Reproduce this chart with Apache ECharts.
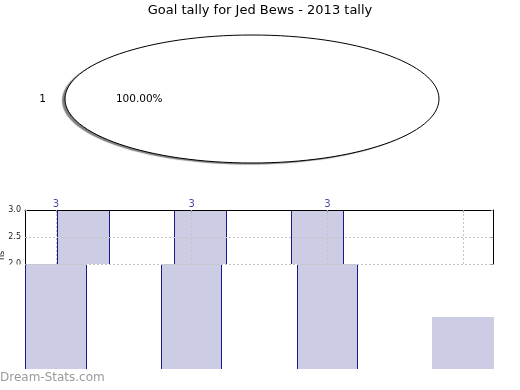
<!DOCTYPE html>
<html><head><meta charset="utf-8">
<script src="https://cdn.jsdelivr.net/npm/echarts@6/dist/echarts.min.js"></script>
<style>html,body{margin:0;padding:0;background:#fff}#c{width:520px;height:390px}</style>
</head><body><div id="c"></div>
<script>
// ---- data ----
const titleText = 'Goal tally for Jed Bews - 2013 tally';
const pieNames = ['1'];
const pieValues = [1];
const upperCats = ['1', '2', '3', '4'];
const upperValues = [3, 3, 3, 2];
const pointCats = ['1', '2', '3', '4'];
const pointLabels = [3, 3, 3, null];
const lowerCats = ['1', '2', '3', '4'];
const lowerValues = [2, 2, 2, 1];
const yTicks = [2.0, 2.5, 3.0];
const yName = 'ns';
const watermark = 'Dream-Stats.com';

const FONT = 'DejaVu Sans';
const NAVY = '#1a1a8c';
const FILL = '#ccccE4';
const GRIDC = '#c4c4c4';

const pieTotal = pieValues.reduce((a, b) => a + b, 0);

function renderPie(params, api) {
  const c = api.coord([0, 0]);
  const e = api.coord([1, 1]);
  const rx = e[0] - c[0], ry = c[1] - e[1];
  const i = params.dataIndex;
  const pct = (pieValues[i] / pieTotal * 100).toFixed(2) + '%';
  return {
    type: 'group', children: [
      { type: 'ellipse', shape: { cx: c[0], cy: c[1], rx: rx, ry: ry },
        style: { fill: '#fff', shadowColor: 'rgba(0,0,0,0.5)', shadowOffsetX: -3, shadowOffsetY: 1.5, shadowBlur: 1 } },
      { type: 'ellipse', shape: { cx: c[0], cy: c[1], rx: rx, ry: ry },
        style: { fill: null, stroke: '#000', lineWidth: 1 } },
      { type: 'text', x: c[0] - 1.12 * rx, y: c[1],
        style: { text: pieNames[i], fill: '#000', font: '10.5px "' + FONT + '"', align: 'center', verticalAlign: 'middle' } },
      { type: 'text', x: c[0] - 0.603 * rx, y: c[1],
        style: { text: pct, fill: '#000', font: '10.5px "' + FONT + '"', align: 'center', verticalAlign: 'middle' } }
    ]
  };
}

function makeBar(baseVal, frac, edgeless) {
  return function (params, api) {
    const idx = api.value(0), v = api.value(1);
    if (v == null || isNaN(v) || v <= baseVal) return;
    const band = api.size([1, 0])[0];
    const w = band * frac;
    const top = api.coord([idx, v]);
    const bot = api.coord([idx, baseVal]);
    const x0 = Math.round(top[0] - w / 2), x1 = Math.round(top[0] + w / 2);
    const y0 = Math.round(top[1]), y1 = Math.round(bot[1]);
    const ch = [{ type: 'rect', shape: { x: x0, y: y0, width: x1 - x0, height: y1 - y0 }, style: { fill: FILL } }];
    if (!edgeless(params.dataIndex)) {
      ch.push({ type: 'line', shape: { x1: x0 + 0.5, y1: y0, x2: x0 + 0.5, y2: y1 }, style: { stroke: NAVY, lineWidth: 1 } });
      ch.push({ type: 'line', shape: { x1: x1 - 0.5, y1: y0, x2: x1 - 0.5, y2: y1 }, style: { stroke: NAVY, lineWidth: 1 } });
    }
    return { type: 'group', children: ch };
  };
}

const chart = echarts.init(document.getElementById('c'), null, { renderer: 'canvas' });
chart.setOption({
  animation: false,
  backgroundColor: '#fff',
  textStyle: { fontFamily: FONT },
  title: [
    { text: titleText, left: 'center', top: -1,
      textStyle: { fontFamily: FONT, fontSize: 13, fontWeight: 'normal', color: '#000' } },
    { text: watermark, left: -5, top: 367,
      textStyle: { fontFamily: FONT, fontSize: 12, fontWeight: 'normal', color: '#9a9a9a' } }
  ],
  grid: [
    { left: 65, top: 35, width: 374, height: 128, outerBoundsMode: 'none' },          // pie
    { left: 25, top: 210, width: 468, height: 54, outerBoundsMode: 'none' },          // upper bars
    { left: 56, top: 210, width: 407, height: 54, outerBoundsMode: 'none' },          // point grid
    { left: 56, top: 264, width: 407, height: 105, outerBoundsMode: 'none' },         // lower bars
    { left: 0, top: 264.5, width: 25, height: 106, show: true, backgroundColor: '#fff', borderWidth: 0, z: 10, outerBoundsMode: 'none' }
  ],
  xAxis: [
    { gridIndex: 0, type: 'value', min: -1, max: 1, show: false },
    { gridIndex: 1, type: 'category', data: upperCats, position: 'top', z: 3,
      axisLine: { show: true, lineStyle: { color: '#000', width: 1 } },
      axisTick: { show: false }, axisLabel: { show: false }, splitLine: { show: false } },
    { gridIndex: 2, type: 'category', data: pointCats, boundaryGap: false, position: 'top', z: 3,
      axisLine: { show: false },
      axisTick: { show: true, inside: true, length: 3, interval: 0, lineStyle: { color: '#aaa' } },
      axisLabel: { show: false },
      splitLine: { show: true, interval: 0, lineStyle: { color: GRIDC, type: [2, 2], width: 1 } } },
    { gridIndex: 3, type: 'category', data: lowerCats, boundaryGap: false, show: false },
    { gridIndex: 4, type: 'value', show: false }
  ],
  yAxis: [
    { gridIndex: 0, type: 'value', min: -1, max: 1, show: false },
    { gridIndex: 1, type: 'value', min: yTicks[0], max: yTicks[yTicks.length - 1], interval: yTicks[1] - yTicks[0], z: 3,
      name: yName, nameLocation: 'middle', nameGap: 19, nameRotate: 90, nameMoveOverlap: false,
      nameTextStyle: { fontFamily: FONT, fontSize: 8, color: '#000', padding: [0, 37, 0, 0] },
      axisLine: { show: true, lineStyle: { color: '#000', width: 1 } },
      axisTick: { show: true, inside: true, length: 2, lineStyle: { color: '#999' } },
      axisLabel: { fontFamily: FONT, fontSize: 8, color: '#222', margin: 4, formatter: v => v.toFixed(1) },
      splitLine: { show: true, lineStyle: { color: GRIDC, type: [2, 2], width: 1 } } },
    { gridIndex: 1, type: 'value', position: 'right', min: yTicks[0], max: yTicks[yTicks.length - 1], interval: yTicks[1] - yTicks[0], z: 3,
      axisLine: { show: true, lineStyle: { color: '#000', width: 1 } },
      axisTick: { show: true, inside: true, length: 2, lineStyle: { color: '#999' } },
      axisLabel: { show: false }, splitLine: { show: false } },
    { gridIndex: 2, type: 'value', min: yTicks[0], max: yTicks[yTicks.length - 1], show: false },
    { gridIndex: 3, type: 'value', min: 0, max: 2, show: false },
    { gridIndex: 4, type: 'value', show: false }
  ],
  series: [
    { type: 'custom', xAxisIndex: 0, yAxisIndex: 0, renderItem: renderPie,
      data: pieValues.map((v, i) => [0, 0, v]), z: 2 },
    { type: 'custom', xAxisIndex: 1, yAxisIndex: 1, z: 1,
      renderItem: makeBar(yTicks[0], 0.45, () => false),
      data: upperValues.map((v, i) => [i, v]) },
    { type: 'custom', xAxisIndex: 3, yAxisIndex: 4, z: 1,
      renderItem: makeBar(0, 0.45, i => i === lowerValues.length - 1),
      data: lowerValues.map((v, i) => [i, v]) },
    { type: 'scatter', xAxisIndex: 2, yAxisIndex: 3, z: 4, symbolSize: 1,
      itemStyle: { color: 'rgba(0,0,0,0)' },
      label: { show: true, position: 'top', distance: 0, color: NAVY, fontFamily: FONT, fontSize: 10,
        formatter: p => String(p.value[1]) },
      data: pointLabels.map((v, i) => v == null ? [i, null] : [i, v]) }
  ]
});
</script>
</body></html>
